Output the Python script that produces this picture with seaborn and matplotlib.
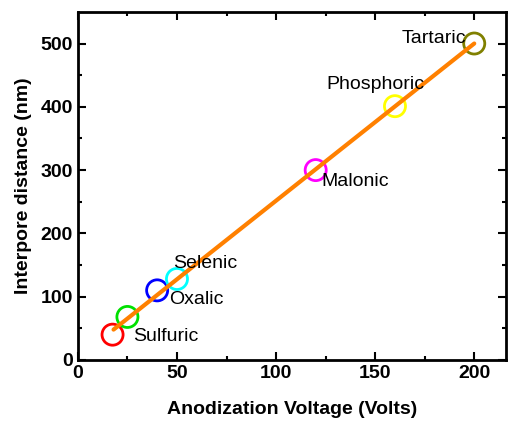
import pandas as pd
import numpy as np
import seaborn as sns
import matplotlib.pyplot as plt

# data
acids = ["Sulfuric", "Sulfuric (25 V)", "Oxalic", "Selenic", "Malonic", "Phosphoric", "Tartaric"]
voltage = [17.5, 25, 40, 50, 120, 160, 200]
interpore = [40, 68, 110, 128, 300, 401, 500]
colors = ["#ff0000", "#00e000", "#0000ff", "#00ffff", "#ff00ff", "#ffff00", "#808000"]

fit_v = [18, 200]
fit_d = [48, 500]

labels = ["Sulfuric", "Oxalic", "Selenic", "Malonic", "Phosphoric", "Tartaric"]
label_x = [28, 46, 48, 123, 125.5, 163.5]
label_y = [37, 96, 152, 282, 436, 508]

df = pd.DataFrame({"acid": acids, "V": voltage, "D": interpore})
fit = pd.DataFrame({"V": fit_v, "D": fit_d})

sns.set_style("ticks")
plt.rcParams["font.family"] = ["Liberation Sans", "DejaVu Sans"]
plt.rcParams["text.color"] = "black"
plt.rcParams["axes.labelcolor"] = "black"
plt.rcParams["xtick.color"] = "black"
plt.rcParams["ytick.color"] = "black"
plt.rcParams["axes.edgecolor"] = "black"

fig = plt.figure(figsize=(5.09, 4.24), dpi=100)
ax = fig.add_axes([0.153, 0.151, 0.841, 0.821])

sns.scatterplot(data=df, x="V", y="D", hue="acid", palette=colors, s=230,
                marker="o", linewidth=2, legend=False, ax=ax)
# seaborn fills markers; make them hollow rings
coll = ax.collections[0]
coll.set_edgecolors(colors)
coll.set_facecolors("none")

sns.lineplot(data=fit, x="V", y="D", color="#ff8000", linewidth=3, ax=ax)

for t, x, y in zip(labels, label_x, label_y):
    ax.text(x, y, t, fontsize=14, va="center", ha="left", color="black")

ax.set_xlim(0, 216)
ax.set_ylim(0, 550)
ax.set_xticks([0, 50, 100, 150, 200])
ax.set_yticks([0, 100, 200, 300, 400, 500])
ax.set_xticks([25, 75, 125, 175], minor=True)
ax.set_yticks([50, 150, 250, 350, 450], minor=True)
ax.tick_params(which="both", direction="in", top=True, right=True, width=1.5, colors="black")
ax.tick_params(which="major", length=6, labelsize=14)
ax.tick_params(which="minor", length=3)
for lab in ax.get_xticklabels() + ax.get_yticklabels():
    lab.set_fontweight("bold")
for sp in ax.spines.values():
    sp.set_linewidth(2)
    sp.set_color("black")
    sp.set_visible(True)

ax.set_xlabel("Anodization Voltage (Volts)", fontsize=14, fontweight="bold", labelpad=14)
ax.set_ylabel("Interpore distance (nm)", fontsize=14, fontweight="bold", labelpad=6)

fig.savefig("out.png", dpi=100)
